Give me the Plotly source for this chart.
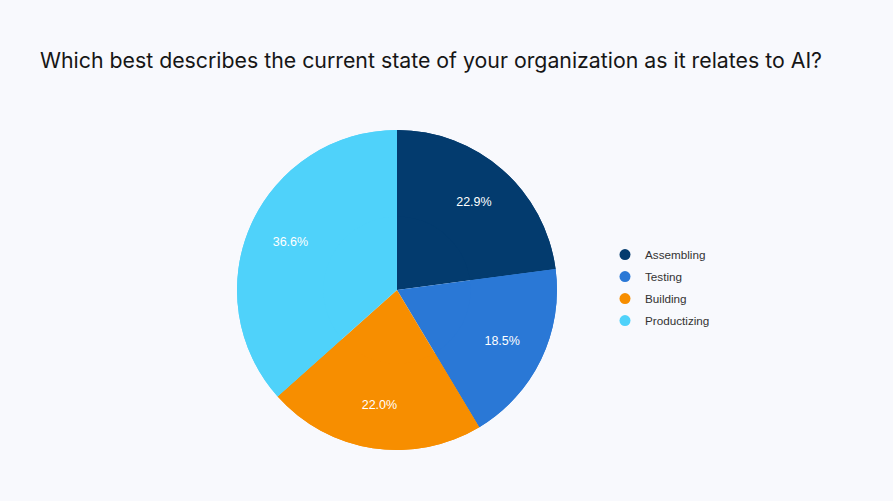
import plotly.graph_objects as go

stages = ["Assembling", "Testing", "Building", "Productizing"]
shares = [22.9, 18.5, 22.0, 36.6]
colors = ["#033b6e", "#2a78d6", "#f78e00", "#4fd2fa"]

bg = "#f8f9fd"
pie_domain = dict(x=[0.2654, 0.6237], y=[0.1018, 0.7405])

fig = go.Figure()

# full pie, no labels
fig.add_trace(go.Pie(
    labels=stages,
    values=shares,
    sort=False,
    direction="clockwise",
    rotation=0,
    marker=dict(colors=colors, line=dict(width=0)),
    textinfo="none",
    hoverinfo="skip",
    showlegend=False,
    domain=pie_domain,
))

# same pie as a ring on top, only used to push the labels outwards
fig.add_trace(go.Pie(
    labels=stages,
    values=shares,
    sort=False,
    direction="clockwise",
    rotation=0,
    hole=0.46,
    marker=dict(colors=colors, line=dict(width=0)),
    texttemplate="%{percent:.1%}",
    textposition="inside",
    insidetextfont=dict(color="white", size=12.5, family="Liberation Sans"),
    insidetextorientation="horizontal",
    showlegend=False,
    domain=pie_domain,
))

# legend with round markers
for name, c in zip(stages, colors):
    fig.add_trace(go.Scatter(
        x=[None], y=[None],
        mode="markers",
        name=name,
        legendgroup=name,
        marker=dict(color=c, size=11, symbol="circle"),
    ))

fig.update_layout(
    width=893,
    height=501,
    paper_bgcolor=bg,
    plot_bgcolor=bg,
    margin={"r": 0, "t": 0, "l": 0, "b": 0},
    xaxis=dict(visible=False),
    yaxis=dict(visible=False),
    title=dict(
        text="Which best describes the current state of your organization as it relates to AI?",
        x=40 / 893,
        xanchor="left",
        y=1 - 61 / 501,
        yanchor="middle",
        font=dict(family="Inter", size=21.3, color="#161616"),
    ),
    legend=dict(
        x=605 / 893,
        xanchor="left",
        y=0.426,
        yanchor="middle",
        font=dict(family="Liberation Sans", size=11.7, color="#333333"),
        itemsizing="trace",
        tracegroupgap=3,
        bgcolor="rgba(0,0,0,0)",
    ),
)

fig.write_html(
    "out.html",
    config={"displayModeBar": False},
    post_script="document.body.style.margin='0';document.body.style.background='" + bg + "';",
)
